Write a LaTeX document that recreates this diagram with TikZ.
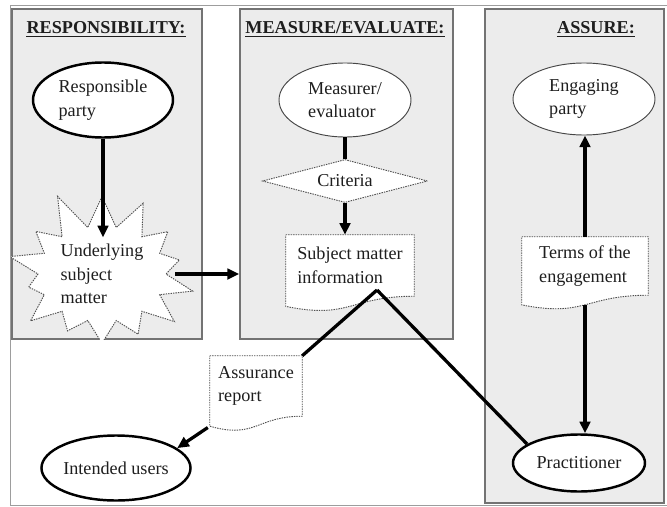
\documentclass[tikz,border=0pt]{standalone}
\usepackage{fontspec}
\setmainfont{Liberation Serif}
\usepackage{tikz}
\usetikzlibrary{shapes.geometric, shapes.symbols, arrows.meta, positioning, calc}
\definecolor{mydark}{RGB}{30,30,30}
\definecolor{mgframe}{RGB}{115,115,115}
\definecolor{mgfill}{RGB}{236,236,236}
\definecolor{mgdot}{RGB}{80,80,80}
\definecolor{mgthin}{RGB}{70,70,70}
\pgfdeclarelayer{bg}
\pgfdeclarelayer{mid}
\pgfsetlayers{bg,mid,main}
\newcommand{\bodyfont}{\fontsize{15.5}{20}\selectfont}
\tikzset{
  panel/.style={rectangle, draw=mgframe, fill=mgfill, line width=1.4pt, inner sep=0pt},
  paneltitle/.style={font=\bodyfont\bfseries, text=mydark, inner sep=0pt},
  boldoval/.style={ellipse, draw=black, fill=white, line width=2.1pt,
    align=left, font=\bodyfont, text=mydark, inner sep=0pt},
  thinoval/.style={ellipse, draw=mgthin, fill=white, line width=0.8pt,
    align=left, font=\bodyfont, text=mydark, inner sep=0pt},
  dotline/.style={draw=mgdot, line width=0.8pt, dash pattern=on 1.2pt off 0.9pt},
  docbox/.style={rectangle, align=left, font=\bodyfont, text=mydark, inner sep=0pt},
  docline/.style={dotline, fill=white},
  critbox/.style={diamond, dotline, fill=white, aspect=4, inner sep=1pt,
    font=\bodyfont, text=mydark},
  burst/.style={starburst, dotline, fill=white, align=left, font=\bodyfont,
    text=mydark, starburst points=14, starburst point height=1.2cm, random starburst=11},
  arrow/.style={-{Triangle[length=10pt, width=9pt]}, line width=2.8pt, color=black},
  line/.style={line width=2.8pt, color=black}
}
% wavy outline behind a document node
\newcommand{\docwave}[1]{%
  \begin{pgfonlayer}{mid}
    \path[docline] (#1.north west) -- (#1.north east) -- (#1.south east)
      .. controls (#1.south) and ($(#1.north)!1.381!(#1.south)$)
      .. ($(#1.north west)!1.165!(#1.south west)$) coordinate (#1-tail) -- cycle;
  \end{pgfonlayer}}

\begin{document}
\begin{tikzpicture}[x=0.03cm, y=-0.03cm]
  \useasboundingbox (0,0) rectangle (667,507);

  % Frame and panels
  \begin{pgfonlayer}{bg}
    \draw[mgframe!70, line width=0.6pt] (10,5) rectangle (667,505);
    \node[panel, minimum width=5.7cm, minimum height=9.9cm] (resp) at (107,174) {};
    \node[panel, minimum width=6.39cm, minimum height=9.9cm] (meas) at (346.5,174) {};
    \node[panel, minimum width=5.37cm, minimum height=14.82cm] (assu) at (574.5,256) {};
  \end{pgfonlayer}
  \node[paneltitle] (tresp) at (106,28) {RESPONSIBILITY:};
  \node[paneltitle] (tmeas) at (345,28) {MEASURE/EVALUATE:};
  \node[paneltitle] (tassu) at (596,28) {ASSURE:};
  \foreach \t in {tresp, tmeas, tassu}
    \draw[mydark, line width=1.1pt] ([yshift=-2.2pt]\t.base west) -- ([yshift=-2.2pt]\t.base east);

  % Responsibility
  \node[boldoval, minimum width=4.2cm, minimum height=2.25cm] (rp) at (103,100) {Responsible\\party};
  \begin{scope}
    \clip (resp.north west) rectangle (resp.south east);
    \node[burst, minimum width=6.0cm, minimum height=4.4cm] (usm) at (102,274) {Underlying\\subject\\matter};
  \end{scope}

  % Measure / evaluate
  \node[thinoval, minimum width=3.96cm, minimum height=2.22cm] (mev) at (345,100) {Measurer/\\evaluator};
  \node[critbox, minimum width=4.95cm, minimum height=1.29cm] (crit) at (345,181) {Criteria};
  \node[docbox, minimum width=3.84cm, minimum height=1.83cm] (smi) at (350,265.5) {Subject matter\\information};
  \docwave{smi}

  % Assure
  \node[thinoval, minimum width=4.26cm, minimum height=2.16cm] (ep) at (584,99) {Engaging\\party};
  \node[docbox, minimum width=3.78cm, minimum height=1.74cm] (toe) at (585,266) {Terms of the\\engagement};
  \docwave{toe}
  \node[boldoval, minimum width=3.96cm, minimum height=1.71cm] (prac) at (579,463) {Practitioner};

  % Report and users
  \node[docbox, minimum width=2.76cm, minimum height=1.8cm] (ar) at (256,386) {Assurance\\report};
  \docwave{ar}
  \node[boldoval, minimum width=4.26cm, minimum height=1.95cm] (iu) at (116,468) {Intended users};

  % Connectors
  \coordinate (apex) at (377,290);
  \draw[arrow, shorten >=1.1cm] (rp.south) -- (rp.south |- usm.center);
  \draw[arrow, shorten <=2.2cm] (usm.center) -- (usm.center -| meas.west);
  \draw[line] (mev.south) -- (crit.north);
  \draw[arrow] (crit.south) -- (crit.south |- smi.north);
  \draw[line] (apex) -- (ar.north east);
  \draw[line] (apex) -- (prac.160);
  \draw[arrow, shorten <=2pt] (ar-tail) -- (iu.18);
  \draw[arrow] (toe.north) -- (toe.north |- ep.south);
  \draw[arrow, shorten <=0.3cm] (toe.south) -- (toe.south |- prac.north);
\end{tikzpicture}
\end{document}
